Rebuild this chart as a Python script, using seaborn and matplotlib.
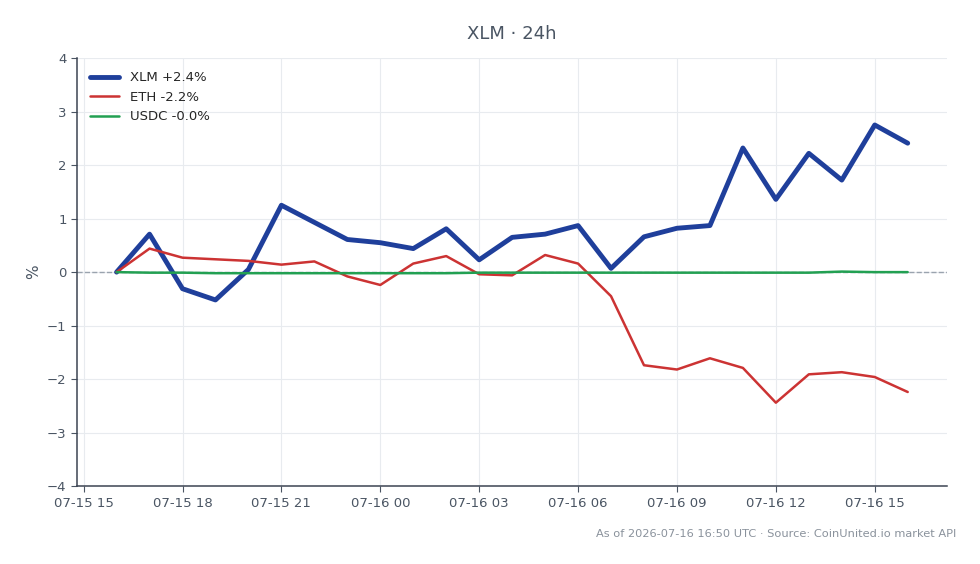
import pandas as pd
import numpy as np
import matplotlib
matplotlib.use('Agg')
import matplotlib.pyplot as plt
import matplotlib.dates as mdates
import seaborn as sns

# Hourly % change over the last 24h
start_time = '2026-07-15 16:00'
n_hours = 25
xlm = [0.0, 0.71, -0.31, -0.52, 0.05, 1.25, 0.93, 0.61, 0.55, 0.44, 0.81, 0.23,
       0.65, 0.71, 0.87, 0.07, 0.66, 0.82, 0.87, 2.32, 1.36, 2.22, 1.72, 2.75, 2.41]
eth = [0.0, 0.44, 0.27, 0.24, 0.21, 0.14, 0.20, -0.08, -0.24, 0.16, 0.30, -0.04,
       -0.06, 0.32, 0.16, -0.45, -1.74, -1.82, -1.61, -1.79, -2.44, -1.91, -1.87, -1.96, -2.24]
usdc = [0.0, -0.01, -0.01, -0.02, -0.02, -0.02, -0.02, -0.02, -0.02, -0.02, -0.02, -0.01,
        -0.01, -0.01, -0.01, -0.01, -0.01, -0.01, -0.01, -0.01, -0.01, -0.01, 0.01, 0.0, 0.0]
labels = ['XLM +2.4%', 'ETH -2.2%', 'USDC -0.0%']
colors = ['#1f3f9b', '#cc3333', '#22a052']
widths = [3.5, 1.8, 1.8]

title = 'XLM · 24h'
footer = 'As of 2026-07-16 16:50 UTC · Source: CoinUnited.io market API'


def main():
    times = pd.date_range(start_time, periods=n_hours, freq='h')
    sns.set_style('whitegrid', {'grid.color': '#e8ebef', 'axes.edgecolor': '#3c4452'})
    plt.rcParams['font.family'] = ['DejaVu Sans']

    fig = plt.figure(figsize=(9.8, 5.64), dpi=100)
    ax = fig.add_axes([0.0786, 0.138, 0.888, 0.759])

    for vals, lab, col, lw in zip([xlm, eth, usdc], labels, colors, widths):
        df = pd.DataFrame({'time': times, 'pct': vals})
        sns.lineplot(data=df, x='time', y='pct', color=col, linewidth=lw, label=lab, ax=ax)

    ax.axhline(0, color='#9aa3ae', linestyle='--', linewidth=1, zorder=1.5)
    ax.set_ylim(-4, 4)
    ax.set_yticks(range(-4, 5))
    ax.xaxis.set_major_locator(mdates.HourLocator(byhour=range(0, 24, 3)))
    ax.xaxis.set_major_formatter(mdates.DateFormatter('%m-%d %H'))

    ax.set_xlabel('')
    ax.set_ylabel('%', color='#4a5563', fontsize=11)
    ax.set_title(title, color='#4a5563', fontsize=13, pad=14)
    ax.tick_params(axis='both', colors='#4a5563', labelsize=9.5, length=4, direction='out',
                   bottom=True, left=True)
    sns.despine(ax=ax)
    for s in ['left', 'bottom']:
        ax.spines[s].set_linewidth(1.1)

    ax.legend(loc='upper left', frameon=False, fontsize=9.5, handlelength=2.2,
              borderaxespad=0.6)
    fig.text(0.976, 0.045, footer, ha='right', va='bottom', fontsize=8.2, color='#8a929c')

    fig.savefig('out.png', dpi=100)
    plt.close('all')


if __name__ == '__main__':
    main()
